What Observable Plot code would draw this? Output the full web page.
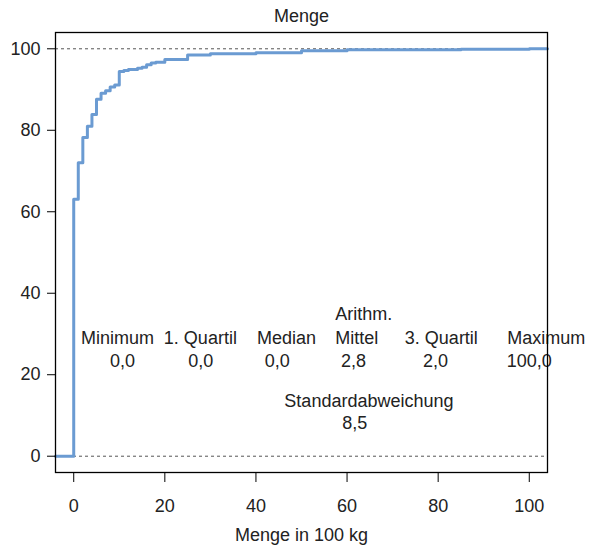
<!DOCTYPE html>
<html>
<head>
<meta charset="utf-8">
<script src="https://cdn.jsdelivr.net/npm/d3@7"></script>
<script src="https://cdn.jsdelivr.net/npm/@observablehq/plot@0.6"></script>
<style>
  html, body { margin: 0; padding: 0; background: #fff; }
  #chart svg { display: block; }
</style>
</head>
<body>
<div id="chart"></div>
<script>
const mengeWerte = [0, 1, 2, 3, 4, 5, 6, 7, 8, 9, 10, 11, 12, 14, 15, 16, 17, 18, 20, 25, 30, 40, 50, 60, 85, 100];
const kumAnteil  = [63.1, 72.0, 78.2, 81.0, 83.9, 87.6, 89.1, 89.7, 90.6, 91.1, 94.4, 94.7, 94.9, 95.2, 95.5, 96.1, 96.5, 96.7, 97.4, 98.5, 98.8, 99.0, 99.5, 99.75, 99.9, 100];
const xTicks = [0, 20, 40, 60, 80, 100];
const yTicks = [0, 20, 40, 60, 80, 100];
const refLinien = [0, 100];
const titel = "Menge";
const xTitel = "Menge in 100 kg";
const statNamen = ["Minimum", "1. Quartil", "Median", "Arithm.\nMittel", "3. Quartil", "Maximum"];
const statWerte = ["0,0", "0,0", "0,0", "2,8", "2,0", "100,0"];
const streuungName = "Standardabweichung";
const streuungWert = "8,5";

// ---- Layout of the annotation block (data units) ----
const nameX  = [9.6, 27.8, 46.7, 57.4, 80.7, 103.7];
const nameAnchor = ["middle", "middle", "middle", "start", "middle", "middle"];
const wertX  = [10.7, 27.9, 44.7, 61.4, 79.4, 100];
const nameY = 27.6, wertY = 23.4, sdNameY = 13.6, sdWertY = 8.0;
const sdNameX = 64.8, sdWertX = 61.7;

const xDomain = [-4, 104];
const yDomain = [-4, 104];

const stufen = [
  {x: xDomain[0], y: 0},
  ...mengeWerte.map((m, i) => ({x: m, y: kumAnteil[i]})),
  {x: xDomain[1], y: kumAnteil[kumAnteil.length - 1]}
];
const namen = statNamen.map((n, i) => ({n, x: nameX[i], a: nameAnchor[i]}));
const werte = statWerte.map((w, i) => ({w, x: wertX[i]}));

const font = "'Liberation Sans', Arial, Helvetica, sans-serif";
const txt = "#222";

const chart = Plot.plot({
  width: 590,
  height: 545,
  marginLeft: 55,
  marginRight: 43,
  marginTop: 32,
  marginBottom: 73,
  style: {fontFamily: font, fontSize: "18px", color: txt, background: "#fff"},
  x: {domain: xDomain},
  y: {domain: yDomain},
  marks: [
    Plot.ruleY(refLinien, {stroke: "#555", strokeWidth: 1, strokeDasharray: "3,3"}),
    Plot.line(stufen, {x: "x", y: "y", curve: "step-after", stroke: "#6b9bd2", strokeWidth: 3}),
    Plot.text(namen.filter(d => d.a === "middle"), {x: "x", y: () => nameY, text: "n", textAnchor: "middle", lineAnchor: "bottom", fill: txt, fontSize: 18}),
    Plot.text(namen.filter(d => d.a === "start"), {x: "x", y: () => nameY, text: "n", textAnchor: "start", lineAnchor: "bottom", lineHeight: 1.3, fill: txt, fontSize: 18}),
    Plot.text(werte, {x: "x", y: () => wertY, text: "w", textAnchor: "middle", lineAnchor: "middle", fill: txt, fontSize: 18}),
    Plot.text([streuungName], {x: () => sdNameX, y: () => sdNameY, text: d => d, lineAnchor: "middle", fill: txt, fontSize: 18}),
    Plot.text([streuungWert], {x: () => sdWertX, y: () => sdWertY, text: d => d, lineAnchor: "middle", fill: txt, fontSize: 18}),
    Plot.text([titel], {frameAnchor: "top", dy: -16, text: d => d, lineAnchor: "middle", fill: txt, fontSize: 18}),
    Plot.text([xTitel], {frameAnchor: "bottom", dy: 63, text: d => d, lineAnchor: "middle", fill: txt, fontSize: 18}),
    Plot.frame({stroke: "#000", strokeWidth: 1.3}),
    Plot.axisX(xTicks, {anchor: "bottom", tickSize: 10, tickPadding: 17, label: null, stroke: "#000", fill: txt, fontSize: 18}),
    Plot.axisY(yTicks, {anchor: "left", tickSize: 8, tickPadding: 7, label: null, stroke: "#000", fill: txt, fontSize: 18})
  ]
});
document.getElementById("chart").appendChild(chart);
</script>
</body>
</html>
